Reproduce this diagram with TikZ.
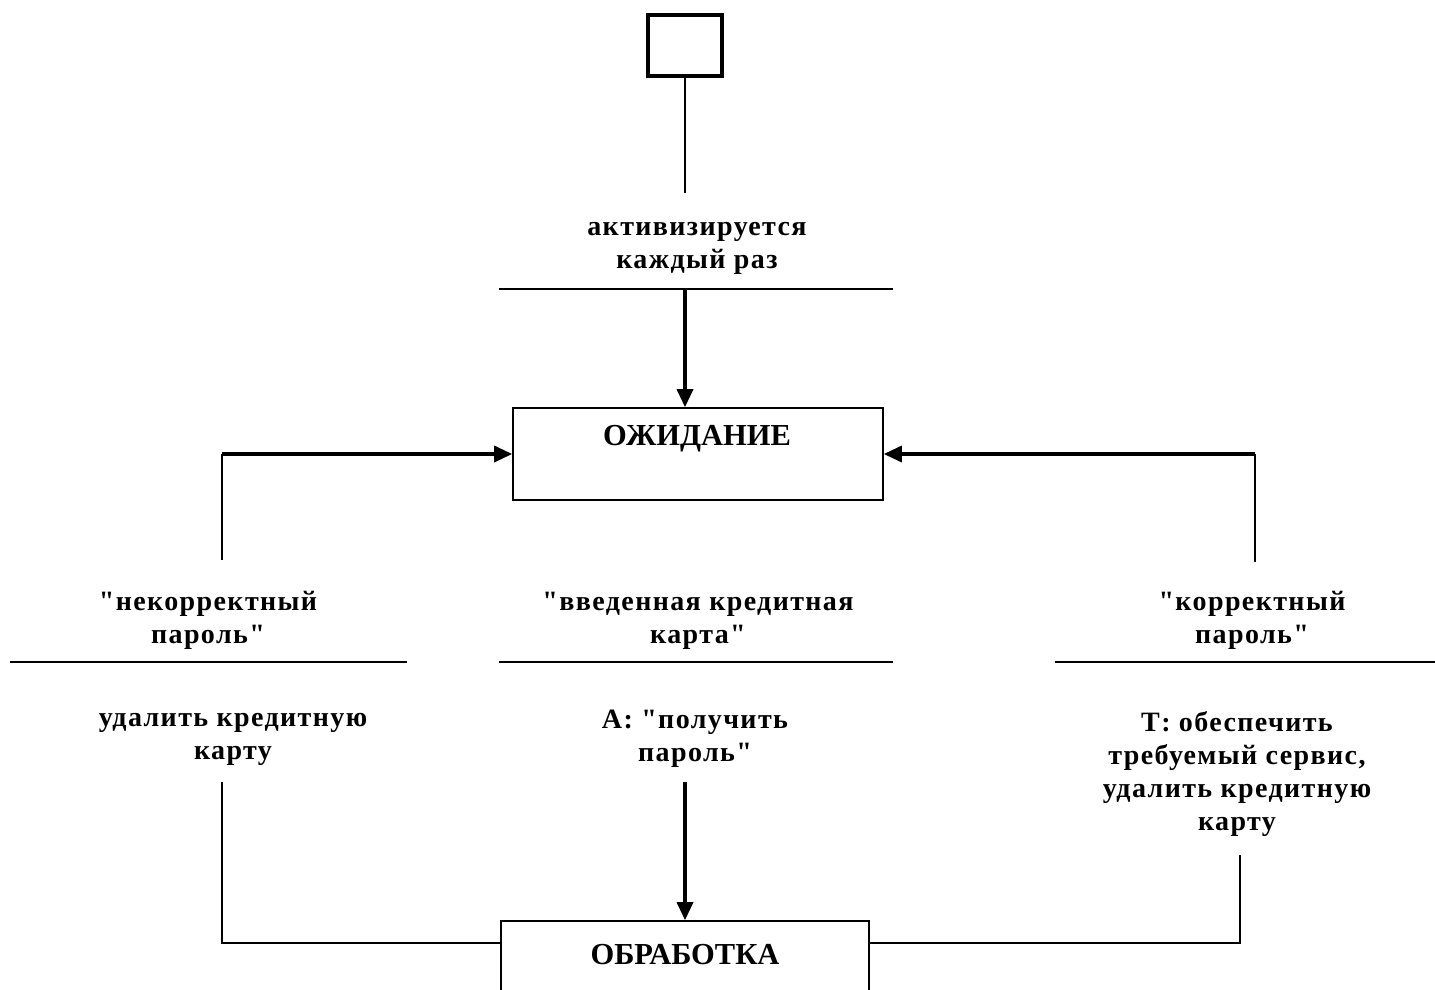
\documentclass[tikz,border=0pt]{standalone}
\usepackage{fontspec}
\setmainfont{Liberation Serif}
\newfontfamily\lblfont[LetterSpace=5]{Liberation Serif}
\usetikzlibrary{arrows.meta}
\begin{document}
\begin{tikzpicture}[x=1pt,y=-1pt,
  lbl/.style={font=\lblfont\fontsize{28}{33}\selectfont\bfseries, align=center, inner sep=0pt},
  ttl/.style={font=\fontsize{30.5}{33}\selectfont\bfseries, inner sep=0pt},
  lthin/.style={line width=1.6pt},
  lthick/.style={line width=3.4pt},
  arr/.style={lthick, -{Triangle[length=18pt,width=16pt]}},
  statebox/.style={draw, line width=1.6pt, inner sep=0pt},
]
\useasboundingbox (0,0) rectangle (1435,989);
\clip (0,0) rectangle (1435,989);

% initial box
\node[draw, line width=4pt, minimum width=74pt, minimum height=61pt, inner sep=0pt] (init) at (685,45.5) {};

% states
\node[statebox, minimum width=370pt, minimum height=92pt] (wait) at (698,454) {};
\node[ttl] (waittxt) at (697,439) {ОЖИДАНИЕ};
\node[statebox, minimum width=368pt, minimum height=100pt] (proc) at (685,971) {};
\node[ttl] (proctxt) at (685,955) {ОБРАБОТКА};

% labels
\node[lbl] (t0) at (697,248) {активизируется\\каждый раз};
\node[lbl] (l1) at (208,620) {"некорректный\\пароль"};
\node[lbl] (m1) at (698,621) {"введенная кредитная\\карта"};
\node[lbl] (r1) at (1252,620) {"корректный\\пароль"};
\node[lbl] (l2) at (233,739) {удалить кредитную\\карту};
\node[lbl] (m2) at (695,739) {А: "получить\\пароль"};
\node[lbl] (r2) at (1237,774) {Т: обеспечить\\требуемый сервис,\\удалить кредитную\\карту};

% coordinates
\coordinate (c0) at (685,193);
\coordinate (c1) at (685,289);
\coordinate (lt) at (222,560);
\coordinate (lc) at (222,454);
\coordinate (rt) at (1255,562);
\coordinate (rc) at (1255,454);
\coordinate (mb) at (685,782);
\coordinate (lb) at (222,782);
\coordinate (rb) at (1240,855);
\coordinate (yb) at (0,943);

% dividers
\draw[lthin] (499,289) -- (893,289);
\draw[lthin] (10,662) -- (407,662);
\draw[lthin] (499,662) -- (893,662);
\draw[lthin] (1055,662) -- (1435,662);

% connectors
\draw[lthin] (init.south) -- (c0);
\draw[arr] (c1) -- (c1 |- wait.north);
\draw[lthin] (lt) -- (lc);
\draw[arr] (lc) -- (lc -| wait.west);
\draw[lthin] (rt) -- (rc);
\draw[arr] (rc) -- (rc -| wait.east);
\draw[arr] (mb) -- (mb |- proc.north);
\draw[lthin] (lb) |- (proc.west |- yb);
\draw[lthin] (rb) |- (proc.east |- yb);
\end{tikzpicture}
\end{document}
